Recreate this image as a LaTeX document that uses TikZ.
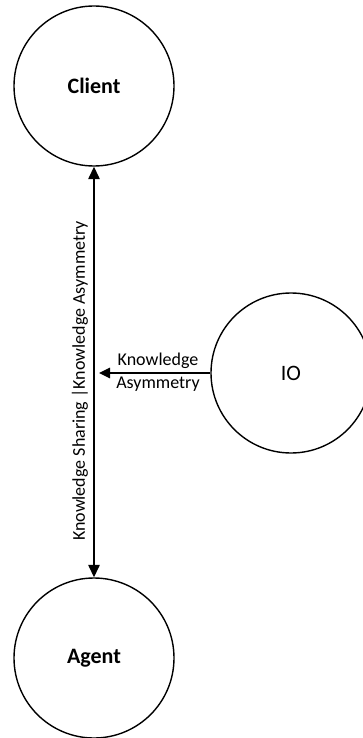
\documentclass[tikz,border=0pt]{standalone}
\usepackage{fontspec}
\setmainfont{Carlito}
\usetikzlibrary{arrows.meta}
\begin{document}
\begin{tikzpicture}[x=1pt,y=-1pt,
  party/.style={circle,draw,line width=1.4pt,minimum size=160pt,inner sep=0pt,
    font=\fontsize{22}{26}\selectfont\bfseries},
  actor/.style={circle,draw,line width=1.4pt,minimum size=160pt,inner sep=0pt,
    font=\fontsize{22}{26}\selectfont},
  flow/.style={line width=1.4pt,-{Triangle[length=11pt,width=10.5pt]}},
  twoway/.style={line width=1.4pt,{Triangle[length=12.5pt,width=11.5pt]}-{Triangle[length=12.5pt,width=11.5pt]}},
  lbl/.style={font=\fontsize{18}{22}\selectfont,inner sep=0pt}]
  \clip (0,0) rectangle (363,738);
  \fill[white] (0,0) rectangle (363,738);

  % the three parties
  \node[party] (client) at (94,86) {Client};
  \node[party] (agent) at (94,658) {Agent};
  \node[actor] (io) at (291,373) {IO};

  % link between client and agent
  \draw[twoway] (client.south) -- (agent.north);
  \node[lbl,rotate=90] (shared) at (80,381) {Knowledge Sharing |Knowledge Asymmetry};

  % influence of IO on that link
  \coordinate (hit) at (99,373);
  \draw[flow] (io.west) -- (hit);
  \node[lbl] (kn) at (158,361) {Knowledge};
  \node[lbl] (as) at (158,384) {Asymmetry};
\end{tikzpicture}
\end{document}
